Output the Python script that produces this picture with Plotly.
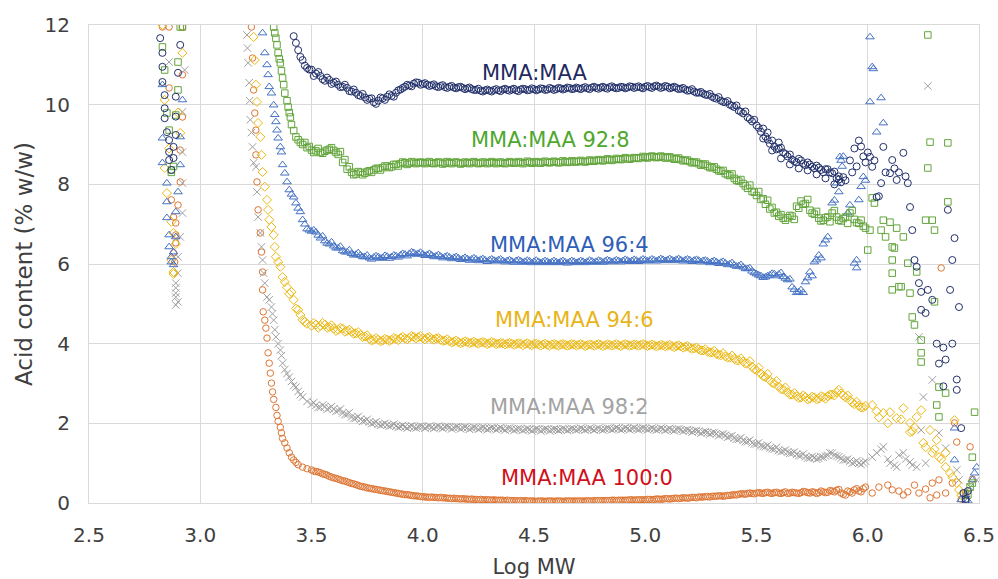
import plotly.graph_objects as go

# ---------------- data ----------------
# literal grids of Log MW used by the dense parts of the curves
grid_350_398 = [3.50,3.52,3.54,3.56,3.58,3.60,3.62,3.64,3.66,3.68,3.70,3.72,3.74,3.76,3.78,3.80,3.82,3.84,3.86,3.88,3.90,3.92,3.94,3.96,3.98]
grid_400_498 = [4.00,4.02,4.04,4.06,4.08,4.10,4.12,4.14,4.16,4.18,4.20,4.22,4.24,4.26,4.28,4.30,4.32,4.34,4.36,4.38,
                4.40,4.42,4.44,4.46,4.48,4.50,4.52,4.54,4.56,4.58,4.60,4.62,4.64,4.66,4.68,4.70,4.72,4.74,4.76,4.78,
                4.80,4.82,4.84,4.86,4.88,4.90,4.92,4.94,4.96,4.98]
grid_500_598 = [5.00,5.02,5.04,5.06,5.08,5.10,5.12,5.14,5.16,5.18,5.20,5.22,5.24,5.26,5.28,5.30,5.32,5.34,5.36,5.38,
                5.40,5.42,5.44,5.46,5.48,5.50,5.52,5.54,5.56,5.58,5.60,5.62,5.64,5.66,5.68,5.70,5.72,5.74,5.76,5.78,
                5.80,5.82,5.84,5.86,5.88,5.90,5.92,5.94,5.96,5.98]
grid_351_399 = [3.51,3.53,3.55,3.57,3.59,3.61,3.63,3.65,3.67,3.69,3.71,3.73,3.75,3.77,3.79,3.81,3.83,3.85,3.87,3.89,3.91,3.93,3.95,3.97,3.99]
grid_401_499 = [4.01,4.03,4.05,4.07,4.09,4.11,4.13,4.15,4.17,4.19,4.21,4.23,4.25,4.27,4.29,4.31,4.33,4.35,4.37,4.39,
                4.41,4.43,4.45,4.47,4.49,4.51,4.53,4.55,4.57,4.59,4.61,4.63,4.65,4.67,4.69,4.71,4.73,4.75,4.77,4.79,
                4.81,4.83,4.85,4.87,4.89,4.91,4.93,4.95,4.97,4.99]
grid_501_599 = [5.01,5.03,5.05,5.07,5.09,5.11,5.13,5.15,5.17,5.19,5.21,5.23,5.25,5.27,5.29,5.31,5.33,5.35,5.37,5.39,
                5.41,5.43,5.45,5.47,5.49,5.51,5.53,5.55,5.57,5.59,5.61,5.63,5.65,5.67,5.69,5.71,5.73,5.75,5.77,5.79,
                5.81,5.83,5.85,5.87,5.89,5.91,5.93,5.95,5.97,5.99]

# ---- MMA:MAA (navy circles)
navy_x = ([2.82,2.83,2.83,2.83,2.84,2.84,2.84,2.85,2.86,2.86,2.87,2.91,2.90,2.89,2.89,2.89,2.88,2.88,2.86,
           3.42,3.43,3.44,3.45,3.46,3.47,3.48,3.49]
          + grid_350_398 + grid_400_498 + grid_500_598[:46]
          + grid_351_399 + grid_401_499 + grid_501_599[:45]
          + [5.53,5.55,5.57,5.60,5.61,5.65,5.69,5.73,5.77,5.81,5.85,5.87,
             5.92,5.93,5.94,5.95,5.96,5.97,5.98,5.99,6.00,6.01,6.02,6.03,6.04,6.05,6.06,6.07,6.08,6.10,6.11,6.12,
             6.13,6.14,6.16,6.17,6.18,6.19,6.20,6.21,6.22,6.23,6.24,6.27,6.29,6.24,6.26,6.37,6.39,6.38,6.36,6.41,
             6.31,6.34,6.32,6.35,6.38,6.40,6.40,6.34,6.42,6.43,6.44,6.45,6.44])
navy_y = ([11.67,11.30,10.95,10.57,10.24,9.91,9.66,9.31,8.81,8.61,8.36,11.50,10.80,10.20,9.70,9.24,8.94,8.66,9.11,
           11.72,11.55,11.37,11.20,11.12,10.98,10.92,10.88]
          + [10.88,10.78,10.72,10.60,10.62,10.55,10.50,10.45,10.42,10.33,10.30,10.22,10.18,10.15,10.06,10.10,10.16,10.20,10.22,10.30,10.38,10.45,10.48,10.53,10.55]
          + [10.52,10.50,10.49,10.46,10.47,10.44,10.45,10.43,10.44,10.42,10.41,10.39,10.37,10.35,10.36,10.35,10.37,10.36,10.38,10.37,
             10.38,10.36,10.38,10.39,10.37,10.39,10.38,10.40,10.38,10.40,10.39,10.41,10.40,10.42,10.40,10.41,10.42,10.41,10.43,10.42,
             10.43,10.42,10.44,10.43,10.42,10.44,10.43,10.45,10.44,10.43]
          + [10.45,10.44,10.46,10.45,10.44,10.45,10.43,10.42,10.40,10.38,10.36,10.33,10.30,10.28,10.24,10.20,10.15,10.10,10.06,10.00,
             9.94,9.85,9.78,9.68,9.58,9.48,9.32,9.20,9.02,8.95,8.90,8.80,8.70,8.62,8.55,8.60,8.48,8.50,8.40,8.42,
             8.30,8.38,8.28,8.15,8.05,8.10]
          + [10.72,10.82,10.64,10.68,10.52,10.58,10.44,10.50,10.34,10.38,10.24,10.27,10.12,10.16,10.02,10.18,10.12,10.26,10.20,10.36,10.42,10.50,10.46,10.56,10.50]
          + [10.54,10.47,10.51,10.44,10.49,10.42,10.47,10.41,10.45,10.39,10.43,10.37,10.40,10.33,10.38,10.33,10.39,10.34,10.40,10.35,
             10.40,10.34,10.40,10.36,10.41,10.36,10.41,10.37,10.42,10.37,10.42,10.38,10.43,10.39,10.43,10.39,10.44,10.39,10.45,10.40,
             10.45,10.40,10.46,10.41,10.45,10.41,10.46,10.42,10.46,10.41]
          + [10.47,10.42,10.48,10.42,10.47,10.41,10.45,10.39,10.42,10.35,10.39,10.30,10.32,10.25,10.27,10.17,10.19,10.07,10.09,9.97,
             9.98,9.82,9.83,9.64,9.62,9.42,9.40,9.12,9.10,8.88,8.92,8.76,8.75,8.58,8.64,8.52,8.55,8.44,8.47,8.36,
             8.38,8.30,8.32,8.12,8.18]
          + [9.15,9.30,8.85,9.05,8.65,8.50,8.40,8.35,8.25,8.15,8.00,8.20,
             8.60,8.30,8.90,8.45,9.10,8.95,8.70,8.55,8.80,8.69,8.44,8.60,7.68,7.70,8.03,8.94,8.30,8.28,8.61,8.40,
             8.11,8.30,8.79,8.20,8.03,7.43,6.85,6.10,5.93,5.52,5.30,5.35,5.10,4.85,4.77,5.35,6.65,6.10,7.36,4.92,
             4.00,3.90,3.50,3.60,4.00,3.10,2.84,2.93,1.88,0.25,0.10,0.30,0.05])

# ---- MMA:MAA 92:8 (green squares)
green_x = ([2.83,2.91,2.90,2.84,2.90,2.85,2.89,2.86,2.87,2.87,2.88,2.92,
            3.33,3.335,3.34,3.345,3.35,3.355,3.36,3.365,3.37,3.375,3.38,3.39,3.395,3.40,3.405,3.41,3.42,3.43,3.44,3.45,3.46,3.48]
           + grid_350_398 + grid_400_498 + grid_500_598
           + grid_351_399 + grid_401_499 + grid_501_599
           + [3.47,3.49,
              6.00,6.01,6.02,6.03,6.06,6.07,6.08,6.10,6.11,6.11,6.12,6.13,6.14,6.15,6.16,6.18,6.19,6.11,6.11,6.20,6.21,
              6.22,6.24,6.24,6.24,6.26,6.27,6.28,6.29,6.30,6.36,6.27,6.36,6.30,6.32,6.35,6.31,6.32,6.48,6.47,6.46,6.45,6.47])
green_y = ([11.45,11.95,11.07,10.87,10.37,9.79,9.74,9.36,8.36,8.30,8.45,11.95,
            11.95,11.80,11.67,11.50,11.30,11.15,11.05,10.85,10.67,10.50,10.29,10.10,9.94,9.80,9.69,9.50,9.35,9.19,9.12,9.05,9.00,8.92]
           + [8.86,8.84,8.80,8.83,8.88,8.85,8.75,8.55,8.38,8.30,8.26,8.30,8.28,8.34,8.36,8.40,8.42,8.46,8.44,8.50,8.52,8.54,8.53,8.55,8.54]
           + [8.54,8.55,8.53,8.54,8.55,8.53,8.54,8.55,8.54,8.53,8.54,8.55,8.54,8.53,8.55,8.54,8.54,8.55,8.53,8.54,
              8.55,8.54,8.55,8.54,8.56,8.55,8.54,8.56,8.55,8.56,8.56,8.55,8.57,8.56,8.57,8.58,8.57,8.58,8.59,8.60,
              8.60,8.61,8.62,8.62,8.63,8.64,8.64,8.65,8.66,8.67]
           + [8.68,8.69,8.69,8.68,8.69,8.67,8.66,8.64,8.62,8.60,8.57,8.55,8.52,8.50,8.46,8.42,8.38,8.33,8.27,8.22,
              8.15,8.08,8.02,7.90,7.82,7.72,7.62,7.50,7.38,7.28,7.20,7.15,7.16,7.20,7.45,7.58,7.52,7.35,7.25,7.15,
              7.10,7.18,7.28,7.18,7.08,7.18,7.28,7.12,7.02,6.95]
           + [8.80,8.90,8.78,8.86,8.92,8.80,8.82,8.62,8.44,8.24,8.32,8.24,8.32,8.30,8.40,8.36,8.46,8.42,8.50,8.46,8.56,8.50,8.57,8.52,8.56]
           + [8.52,8.57,8.52,8.56,8.51,8.57,8.52,8.56,8.51,8.56,8.52,8.57,8.52,8.56,8.52,8.57,8.52,8.56,8.52,8.57,
              8.53,8.57,8.52,8.58,8.53,8.57,8.53,8.58,8.54,8.58,8.54,8.59,8.55,8.59,8.56,8.60,8.56,8.61,8.58,8.62,
              8.59,8.64,8.60,8.65,8.62,8.67,8.63,8.67,8.65,8.70]
           + [8.66,8.71,8.67,8.71,8.66,8.69,8.63,8.66,8.59,8.61,8.54,8.56,8.48,8.51,8.42,8.44,8.34,8.35,8.24,8.26,
              8.10,8.12,7.96,7.98,7.80,7.82,7.64,7.60,7.42,7.30,7.24,7.10,7.22,7.12,7.40,7.50,7.62,7.28,7.32,7.08,
              7.16,7.06,7.34,7.10,7.14,7.02,7.34,7.04,7.10,6.90]
           + [9.05,8.95,
              6.35,6.85,7.66,7.53,6.85,7.10,6.68,7.05,6.43,6.10,6.40,6.90,5.43,5.43,6.68,6.02,5.27,5.77,5.35,4.67,4.47,
              5.80,4.09,3.54,3.77,7.10,8.41,9.06,7.10,6.85,9.04,11.75,7.56,5.05,2.91,2.76,2.46,2.16,2.28,1.15,0.40,0.20,0.50])

# ---- MMA:MAA 96:4 (blue triangles)
blue_x = ([2.83,2.92,2.83,2.91,2.83,2.91,2.85,2.90,2.85,2.89,2.85,2.86,2.89,2.86,2.87,2.88,2.88,2.87,
           3.28,3.29,3.30,3.305,3.31,3.32,3.33,3.335,3.34,3.345,3.35,3.36,3.365,3.37,3.38,3.39,3.40,3.41,3.42,3.43,3.44,3.45,3.46,3.47,3.48,3.49]
          + grid_350_398 + grid_400_498 + grid_500_598[:42]
          + grid_351_399 + grid_401_499 + grid_501_599[:41]
          + [5.84,5.85,5.86,5.87,5.875,5.88,5.885,5.89,5.91,5.92,5.96,5.97,5.98,5.99,
             5.94,5.95,5.95,6.01,6.02,6.025,6.01,6.06,6.04,6.07,6.39,6.39,6.48,6.47,6.42,6.44,6.45,6.49])
blue_y = ([10.50,10.12,9.16,9.19,8.54,8.49,8.03,7.81,7.56,7.31,7.16,6.73,6.68,6.43,6.18,5.98,6.30,6.05,
           11.80,11.30,11.00,10.75,10.45,10.29,9.99,9.75,9.57,9.36,9.16,8.94,8.81,8.49,8.28,8.06,7.86,7.75,7.68,7.53,7.40,7.31,7.11,7.00,6.88,6.85]
          + [6.82,6.80,6.65,6.58,6.50,6.45,6.40,6.33,6.30,6.26,6.24,6.22,6.18,6.15,6.17,6.18,6.16,6.19,6.18,6.20,6.22,6.24,6.26,6.28,6.26]
          + [6.25,6.23,6.22,6.20,6.19,6.18,6.17,6.16,6.15,6.13,6.13,6.12,6.12,6.11,6.10,6.10,6.09,6.10,6.08,6.08,
             6.07,6.08,6.07,6.06,6.07,6.06,6.06,6.05,6.06,6.05,6.05,6.06,6.05,6.05,6.06,6.05,6.06,6.06,6.07,6.06,
             6.07,6.07,6.08,6.07,6.08,6.08,6.09,6.08,6.09,6.09]
          + [6.10,6.09,6.10,6.10,6.11,6.10,6.10,6.11,6.10,6.10,6.10,6.09,6.09,6.08,6.07,6.06,6.05,6.04,6.02,6.00,
             5.97,5.95,5.92,5.88,5.82,5.75,5.70,5.67,5.72,5.75,5.74,5.68,5.60,5.42,5.28,5.35,5.55,5.80,6.05,6.22,
             6.50,6.68]
          + [6.85,6.72,6.70,6.52,6.55,6.40,6.44,6.30,6.35,6.22,6.28,6.18,6.22,6.12,6.20,6.14,6.21,6.14,6.22,6.17,6.26,6.20,6.30,6.24,6.29]
          + [6.21,6.26,6.18,6.23,6.15,6.20,6.13,6.18,6.11,6.16,6.09,6.15,6.08,6.13,6.06,6.12,6.07,6.12,6.05,6.10,
             6.04,6.10,6.04,6.09,6.03,6.09,6.03,6.08,6.03,6.08,6.03,6.08,6.02,6.08,6.03,6.08,6.03,6.09,6.04,6.09,
             6.04,6.10,6.05,6.10,6.05,6.11,6.06,6.11,6.06,6.12]
          + [6.07,6.12,6.07,6.13,6.08,6.13,6.08,6.13,6.07,6.12,6.06,6.11,6.05,6.09,6.03,6.08,6.01,6.06,5.98,6.03,
             5.94,5.98,5.88,5.90,5.78,5.72,5.66,5.70,5.76,5.70,5.78,5.64,5.62,5.36,5.30,5.28,5.65,5.70,6.10,6.15,
             6.60]
          + [7.53,7.60,8.03,7.81,8.69,8.60,8.45,8.70,7.28,7.48,7.61,7.94,8.19,8.10,
             6.02,5.90,6.10,11.70,10.95,10.90,10.07,10.17,9.31,9.54,1.88,1.08,0.75,0.58,0.08,0.20,0.05,0.90])

# ---- MMA:MAA 94:6 (gold diamonds)
gold_x = ([2.83,2.92,2.84,2.91,2.84,2.85,2.87,2.88,2.87,2.88,2.88,2.89,2.86,2.90,
           3.24,3.245,3.25,3.255,3.26,3.27,3.275,3.28,3.29,3.30,3.305,3.31,3.32,3.33,3.335,3.34,3.35,3.36,3.37,3.38,3.39,3.40,3.41,3.42,3.43,3.44,3.45,3.46,3.47,3.48]
          + grid_350_398 + grid_400_498 + grid_500_598
          + grid_351_399 + grid_401_499 + grid_501_599
          + [6.02,6.04,6.05,6.07,6.09,6.10,6.13,6.15,6.16,6.19,6.19,6.20,6.21,6.22,6.24,6.28,6.25,6.26,6.29,6.30,6.32,6.33,
             6.35,6.37,6.38,6.40,6.41,6.42,6.39,6.31,6.35])
gold_y = ([12.00,11.30,10.12,9.29,8.41,7.78,7.06,6.78,6.10,5.80,5.75,6.50,8.90,9.80,
           11.70,11.12,10.50,10.07,9.54,9.19,8.74,8.31,7.94,7.61,7.36,7.11,6.93,6.73,6.43,6.18,6.05,5.93,5.67,5.55,5.42,5.25,5.30,5.10,4.88,4.85,4.72,4.60,4.55,4.50]
          + [4.45,4.48,4.45,4.48,4.42,4.38,4.35,4.38,4.32,4.30,4.26,4.22,4.18,4.12,4.10,4.10,4.08,4.10,4.10,4.12,4.14,4.13,4.15,4.17,4.16]
          + [4.14,4.15,4.12,4.13,4.10,4.08,4.06,4.05,4.04,4.03,4.04,4.03,4.02,4.03,4.02,4.01,4.02,4.00,4.01,4.00,
             4.00,3.99,4.00,3.99,3.98,3.99,3.98,3.98,3.97,3.98,3.97,3.98,3.97,3.97,3.98,3.97,3.97,3.96,3.97,3.97,
             3.97,3.96,3.97,3.97,3.96,3.97,3.97,3.96,3.97,3.97]
          + [3.97,3.96,3.96,3.95,3.96,3.95,3.94,3.94,3.93,3.92,3.90,3.88,3.86,3.83,3.80,3.78,3.74,3.71,3.68,3.65,
             3.62,3.58,3.55,3.50,3.42,3.33,3.25,3.16,3.08,3.00,2.92,2.85,2.78,2.72,2.68,2.65,2.66,2.62,2.65,2.62,
             2.66,2.68,2.72,2.78,2.75,2.65,2.58,2.48,2.44,2.40]
          + [4.52,4.40,4.52,4.40,4.46,4.32,4.40,4.30,4.35,4.25,4.29,4.17,4.21,4.08,4.14,4.06,4.12,4.07,4.14,4.09,4.17,4.11,4.19,4.13,4.19]
          + [4.11,4.17,4.10,4.14,4.07,4.11,4.03,4.08,4.01,4.06,4.01,4.05,4.00,4.04,3.99,4.04,3.99,4.02,3.98,4.02,
             3.97,4.01,3.96,4.01,3.96,4.00,3.95,4.00,3.95,3.99,3.95,3.99,3.95,3.99,3.95,3.99,3.94,3.98,3.95,3.99,
             3.94,3.98,3.95,3.99,3.94,3.99,3.95,3.98,3.95,3.99]
          + [3.94,3.98,3.93,3.97,3.93,3.97,3.91,3.96,3.90,3.94,3.87,3.90,3.83,3.86,3.78,3.82,3.72,3.76,3.65,3.70,
             3.58,3.63,3.50,3.56,3.36,3.40,3.18,3.24,3.02,3.06,2.86,2.90,2.72,2.76,2.64,2.70,2.60,2.67,2.60,2.68,
             2.62,2.72,2.70,2.84,2.70,2.70,2.52,2.54,2.40,2.44]
          + [2.46,2.30,2.15,2.26,2.00,2.28,2.13,2.10,2.38,2.01,1.78,1.80,1.90,2.16,2.33,1.83,1.51,1.40,1.26,1.35,1.15,1.10,
             0.90,0.75,0.65,0.50,0.33,0.20,2.08,1.58,1.26])

# ---- MMA:MAA 98:2 (grey crosses)
grey_x = ([2.86,2.93,2.92,2.92,2.92,2.92,2.91,2.90,2.90,2.89,2.89,2.89,2.89,2.89,2.90,
           3.21,3.212,3.215,3.22,3.222,3.225,3.23,3.235,3.24,3.25,3.255,3.26,3.27,3.275,3.28,3.285,3.29,3.30,3.31,3.32,
           3.325,3.33,3.335,3.34,3.35,3.36,3.365,3.37,3.38,3.39,3.40,3.41,3.42,3.43,3.44,3.45,3.46,3.48]
          + grid_350_398 + grid_400_498 + grid_500_598
          + grid_351_399 + grid_401_499 + grid_501_599
          + [6.02,6.04,6.06,6.07,6.09,6.10,6.12,6.13,6.14,6.16,6.17,6.19,6.20,6.22,6.24,6.25,6.26,6.29,6.23,6.32,6.35,
             6.40,6.41,6.44,6.46,6.49,6.27])
grey_y = ([11.07,10.87,9.82,8.81,8.03,7.28,6.68,6.18,5.77,5.52,5.27,5.40,5.17,4.97,5.05,
           11.75,11.42,11.05,10.55,10.10,9.62,9.30,8.94,8.54,8.44,7.81,7.18,6.78,6.43,6.10,5.77,5.52,5.17,5.10,4.92,
           4.75,4.59,4.35,4.17,4.00,3.84,3.70,3.51,3.35,3.25,3.16,3.05,2.95,2.91,2.80,2.72,2.66,2.55]
          + [2.48,2.45,2.40,2.42,2.38,2.36,2.32,2.26,2.22,2.16,2.13,2.10,2.06,2.03,2.01,1.98,1.97,1.96,1.95,1.93,1.92,1.91,1.92,1.90,1.91]
          + [1.92,1.91,1.90,1.91,1.90,1.91,1.90,1.89,1.90,1.89,1.89,1.88,1.89,1.88,1.88,1.87,1.88,1.87,1.86,1.87,
             1.86,1.85,1.86,1.85,1.85,1.84,1.85,1.84,1.85,1.84,1.85,1.84,1.85,1.85,1.86,1.85,1.86,1.85,1.86,1.86,
             1.85,1.86,1.87,1.86,1.87,1.86,1.87,1.87,1.86,1.87]
          + [1.87,1.86,1.86,1.85,1.86,1.85,1.84,1.85,1.84,1.83,1.82,1.81,1.80,1.78,1.77,1.76,1.74,1.72,1.70,1.67,
             1.63,1.60,1.57,1.54,1.51,1.48,1.44,1.41,1.38,1.35,1.32,1.30,1.28,1.25,1.22,1.19,1.16,1.13,1.14,1.12,
             1.15,1.20,1.25,1.18,1.12,1.08,1.05,1.02,1.00,1.01]
          + [2.52,2.40,2.46,2.35,2.42,2.30,2.36,2.22,2.27,2.12,2.17,2.05,2.10,1.99,2.04,1.95,2.00,1.93,1.98,1.90,1.95,1.88,1.94,1.88,1.93]
          + [1.88,1.93,1.87,1.93,1.87,1.92,1.86,1.91,1.86,1.91,1.85,1.90,1.85,1.90,1.84,1.89,1.84,1.89,1.83,1.88,
             1.82,1.87,1.82,1.87,1.81,1.86,1.81,1.86,1.81,1.86,1.82,1.87,1.82,1.87,1.83,1.88,1.83,1.88,1.83,1.88,
             1.83,1.88,1.84,1.89,1.84,1.89,1.84,1.89,1.84,1.89]
          + [1.84,1.88,1.83,1.88,1.82,1.87,1.81,1.86,1.80,1.84,1.78,1.82,1.75,1.79,1.73,1.77,1.69,1.73,1.65,1.69,
             1.60,1.64,1.54,1.58,1.48,1.51,1.42,1.45,1.36,1.40,1.29,1.33,1.25,1.28,1.19,1.23,1.13,1.17,1.10,1.16,
             1.18,1.26,1.20,1.16,1.08,1.10,1.00,1.06,0.97,1.05]
          + [1.15,1.26,1.35,1.41,1.10,1.00,0.95,0.90,1.20,1.26,1.10,1.03,0.95,0.90,1.83,2.66,1.00,3.09,4.17,1.76,1.38,
             0.83,0.58,0.20,0.40,0.58,10.47])

# ---- MMA:MAA 100:0 (orange circles)
orange_x = ([2.83,2.86,2.92,2.92,2.86,2.92,2.91,2.91,2.87,2.90,2.88,2.89,2.89,2.89,2.88,2.885,
             3.23,3.235,3.24,3.245,3.25,3.25,3.255,3.26,3.27,3.275,3.28,3.28,3.283,3.29,3.295,3.30,3.305,3.31,3.315,3.32,
             3.325,3.33,3.34,3.345,3.35,3.36,3.365,3.37,3.38,3.39,3.40,3.41,3.42,3.43,3.44,3.46,3.48]
            + grid_350_398 + grid_400_498 + grid_500_598
            + grid_351_399 + grid_401_499 + grid_501_599
            + [6.02,6.05,6.09,6.11,6.14,6.16,6.18,6.21,6.23,6.26,6.29,6.28,6.31,6.32,6.35,6.38,6.40,6.39,6.44,6.46,
               6.33,6.42,6.47])
orange_y = ([11.95,11.95,11.95,10.75,10.42,9.69,8.86,8.06,7.61,7.48,7.18,7.03,6.73,6.53,6.28,6.05,
             11.95,11.17,10.37,9.79,9.36,8.74,8.06,7.36,6.78,6.30,5.80,5.35,4.80,4.59,4.39,4.14,3.77,3.51,3.26,3.01,
             2.79,2.60,2.40,2.20,2.05,1.90,1.76,1.62,1.51,1.38,1.26,1.15,1.08,1.02,0.96,0.90,0.86]
            + [0.83,0.79,0.76,0.72,0.67,0.63,0.60,0.56,0.53,0.49,0.46,0.42,0.40,0.37,0.35,0.33,0.31,0.29,0.27,0.25,0.23,0.21,0.20,0.18,0.17]
            + [0.16,0.15,0.15,0.14,0.14,0.13,0.12,0.12,0.11,0.11,0.10,0.10,0.09,0.09,0.08,0.08,0.08,0.07,0.07,0.07,
               0.06,0.06,0.06,0.06,0.05,0.05,0.05,0.05,0.05,0.05,0.05,0.05,0.05,0.05,0.05,0.05,0.05,0.06,0.05,0.06,
               0.06,0.06,0.06,0.07,0.07,0.07,0.07,0.08,0.08,0.08]
            + [0.08,0.09,0.09,0.10,0.10,0.11,0.11,0.12,0.12,0.13,0.13,0.14,0.15,0.15,0.16,0.17,0.17,0.18,0.18,0.19,
               0.21,0.22,0.23,0.24,0.24,0.25,0.25,0.26,0.25,0.26,0.25,0.26,0.24,0.27,0.25,0.26,0.28,0.25,0.27,0.26,
               0.28,0.27,0.30,0.32,0.25,0.20,0.28,0.33,0.30,0.36]
            + [0.80,0.78,0.73,0.70,0.65,0.62,0.58,0.55,0.51,0.48,0.44,0.41,0.38,0.36,0.34,0.32,0.30,0.28,0.26,0.24,0.22,0.21,0.19,0.18,0.16]
            + [0.15,0.14,0.14,0.13,0.13,0.12,0.11,0.11,0.10,0.10,0.09,0.09,0.08,0.08,0.08,0.07,0.07,0.07,0.06,0.06,
               0.06,0.05,0.05,0.05,0.05,0.04,0.05,0.04,0.05,0.04,0.05,0.04,0.05,0.05,0.05,0.05,0.05,0.05,0.06,0.06,
               0.06,0.06,0.07,0.06,0.07,0.07,0.08,0.07,0.08,0.08]
            + [0.09,0.08,0.10,0.09,0.11,0.10,0.12,0.11,0.13,0.12,0.14,0.13,0.15,0.16,0.15,0.17,0.18,0.17,0.19,0.20,
               0.20,0.23,0.22,0.25,0.23,0.26,0.24,0.27,0.24,0.27,0.24,0.28,0.25,0.26,0.24,0.29,0.26,0.28,0.24,0.30,
               0.26,0.31,0.28,0.34,0.22,0.30,0.25,0.36,0.28,0.40]
            + [0.25,0.40,0.45,0.33,0.30,0.20,0.28,0.45,0.25,0.35,0.50,0.13,0.20,0.58,0.25,0.50,1.53,2.01,0.25,1.41,
               5.90,0.10,0.60])

series_names = ["MMA:MAA 100:0", "MMA:MAA 98:2", "MMA:MAA 94:6", "MMA:MAA 96:4", "MMA:MAA 92:8", "MMA:MAA"]
label_texts = ["MMA:MAA", "MMA:MAA 92:8", "MMA:MAA 96:4", "MMA:MAA 94:6", "MMA:MAA 98:2", "MMA:MAA 100:0"]

# ---------------- figure ----------------
FONT = "DejaVu Sans"
fig = go.Figure()

traces = [
    (orange_x, orange_y, "circle-open", "#DE7634", 6.5),
    (grey_x, grey_y, "x-thin-open", "#A0A0A0", 7.5),
    (gold_x, gold_y, "diamond-open", "#EDB914", 7),
    (blue_x, blue_y, "triangle-up-open", "#4572C4", 7.5),
    (green_x, green_y, "square-open", "#63A53C", 6.5),
    (navy_x, navy_y, "circle-open", "#22306A", 7),
]
for (xs, ys, sym, col, sz), name in zip(traces, series_names):
    fig.add_trace(go.Scatter(
        x=xs, y=ys, mode="markers", name=name,
        marker=dict(symbol=sym, size=sz, color=col, line=dict(color=col, width=1)),
    ))

label_pos = [(4.50, 10.80), (4.576, 9.11), (4.66, 6.48), (4.68, 4.59), (4.66, 2.41), (4.74, 0.63)]
label_cols = ["#1F2A60", "#4EA72E", "#2E5EB8", "#E8B416", "#A3A3A3", "#D0101A"]
for txt, (lx, ly), c in zip(label_texts, label_pos, label_cols):
    fig.add_annotation(x=lx, y=ly, text=txt, showarrow=False,
                       font=dict(family=FONT, size=21, color=c), xanchor="center", yanchor="middle")

fig.update_layout(
    width=998, height=579,
    margin=dict(l=89, r=19, t=25, b=76, autoexpand=False),
    paper_bgcolor="white", plot_bgcolor="white",
    showlegend=False,
    font=dict(family=FONT, color="#404040"),
)
fig.update_xaxes(
    range=[2.5, 6.5], dtick=0.5, tick0=2.5, tickformat=".1f",
    showgrid=True, gridcolor="#D9D9D9", gridwidth=1,
    showline=True, linecolor="#D9D9D9", mirror=True, zeroline=False,
    ticks="", ticklabelstandoff=14, automargin=False,
    tickfont=dict(family=FONT, size=20, color="#404040"),
    title=dict(text="Log MW", font=dict(family=FONT, size=21, color="#404040"), standoff=14),
)
fig.update_yaxes(
    range=[0, 12], dtick=2, tick0=0,
    showgrid=True, gridcolor="#D9D9D9", gridwidth=1,
    showline=True, linecolor="#D9D9D9", mirror=True, zeroline=False,
    ticks="", ticklabelstandoff=14, automargin=False,
    tickfont=dict(family=FONT, size=20, color="#404040"),
    title=dict(text="Acid content (% w/w)", font=dict(family=FONT, size=23, color="#404040"), standoff=5),
)

fig.write_html("out.html")
